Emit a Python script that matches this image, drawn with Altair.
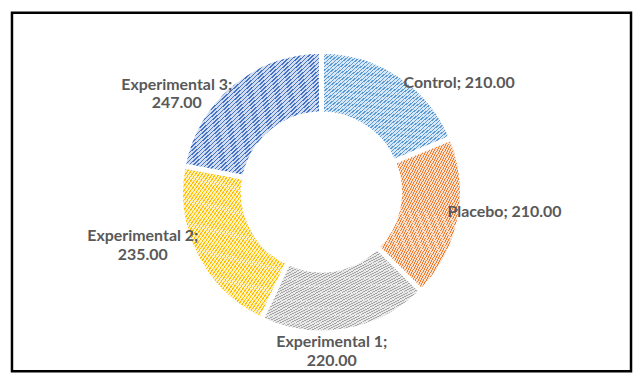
import altair as alt
import pandas as pd

# ---- data ----
categories = ["Control", "Placebo", "Experimental 1", "Experimental 2", "Experimental 3"]
values = [210.00, 210.00, 220.00, 235.00, 247.00]
two_line = [False, False, True, True, True]

# ---- styles ----
colors = ["#5B9BD5", "#ED7D31", "#A5A5A5", "#FFC000", "#4472C4"]
label_offsets = {  # (dx, dy) from the slice mid-angle anchor at radius 170
    "Control": (44, 32),
    "Placebo": (17, -13),
    "Experimental 1": (-19, -17),
    "Experimental 2": (-28, -33),
    "Experimental 3": (-37, 23),
}


def mix(hex_color, t):
    r, g, b = (int(hex_color[i:i + 2], 16) for i in (1, 3, 5))
    r = round(255 + (r - 255) * t)
    g = round(255 + (g - 255) * t)
    b = round(255 + (b - 255) * t)
    return f"#{r:02x}{g:02x}{b:02x}"


def stripes(fg, bg, n=64, frac=0.36):
    stops = []
    for i in range(n):
        a, b, c = i / n, (i + frac) / n, (i + 1) / n
        stops += [
            {"offset": a, "color": fg},
            {"offset": b, "color": fg},
            {"offset": b, "color": bg},
            {"offset": c, "color": bg},
        ]
    return {"gradient": "linear", "x1": 0, "y1": 0, "x2": 1, "y2": 1, "stops": stops}


grads = [stripes(c, mix(c, 0.24)) for c in colors]

labels = [
    f"{c};\n{v:.2f}" if tl else f"{c}; {v:.2f}"
    for c, v, tl in zip(categories, values, two_line)
]
df = pd.DataFrame({
    "cat": categories,
    "value": values,
    "idx": list(range(len(categories))),
    "label": labels,
})

fill_def = alt.FillValue(
    value=grads[-1],
    condition=[
        {"test": f"datum.cat === '{c}'", "value": g}
        for c, g in zip(categories[:-1], grads[:-1])
    ],
)

arcs = alt.Chart(df).mark_arc(
    innerRadius=78.5, outerRadius=141.5, stroke="white", strokeWidth=5
).encode(
    theta=alt.Theta("value:Q", stack=True),
    order=alt.Order("idx:Q", sort="ascending"),
    fill=fill_def,
)

text_base = (
    alt.Chart(df)
    .transform_joinaggregate(total="sum(value)")
    .transform_window(cum="sum(value)", sort=[alt.SortField("idx")], frame=[None, 0])
    .transform_calculate(mid="(datum.cum - datum.value / 2) / datum.total")
)

layers = [arcs]
for c in categories:
    dx, dy = label_offsets[c]
    layers.append(
        text_base.transform_filter(alt.datum.cat == c)
        .mark_text(
            radius=170, dx=dx, dy=dy, font="Lato", fontSize=16, fontWeight="bold",
            color="#595959", lineBreak="\n", lineHeight=19,
            align="center", baseline="middle",
        )
        .encode(
            theta=alt.Theta("mid:Q", scale=alt.Scale(domain=[0, 1])),
            text=alt.Text("label:N"),
        )
    )

border = alt.Chart(alt.Data(values=[{}])).mark_rect(
    fill="transparent", stroke="black", strokeWidth=2.5
).encode(
    x=alt.value(0), x2=alt.value("width"), y=alt.value(0), y2=alt.value("height")
)
layers.append(border)

chart = alt.layer(*layers).resolve_scale(theta="independent").properties(
    width=630, height=367,
    padding={"left": 2, "top": 2, "right": 2, "bottom": 1},
    autosize=alt.AutoSizeParams(type="fit", contains="padding"),
    background="white",
).configure_view(stroke=None)

chart.save("out.html", embed_options={"renderer": "svg", "actions": False})
